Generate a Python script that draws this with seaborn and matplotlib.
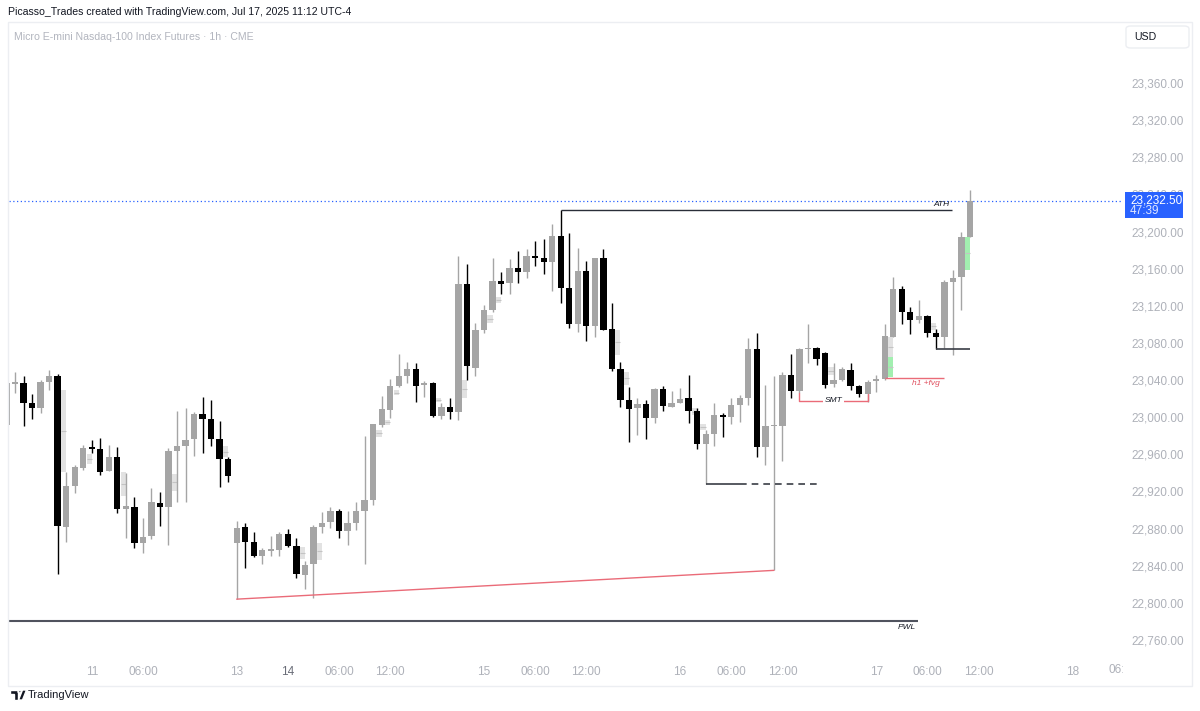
import numpy as np
import pandas as pd
import seaborn as sns
import matplotlib.pyplot as plt
from matplotlib.patches import Rectangle, FancyBboxPatch, Polygon, Circle
from matplotlib.transforms import Bbox, TransformedBbox

# MNQ 1h candles, Jul 10 14:00 -> Jul 17 11:00 ET
opens = [22992, 23036, 23037, 23015, 23010, 23038, 23044, 22882, 22926, 22945,
         22968, 22966, 22942, 22957, 22901, 22903, 22864, 22872, 22908, 22903,
         22964, 22969, 22976, 23003, 22998, 22976, 22955, 22864, 22882, 22866,
         22850, 22856, 22857, 22874, 22861, 22830, 22842, 22882, 22887, 22899,
         22877, 22886, 22899, 22911, 22992, 23008, 23034, 23044, 23052, 23035,
         23037, 23001, 23011, 23006, 23144, 23053, 23094, 23116, 23147, 23145,
         23161, 23156, 23174, 23171, 23167, 23195, 23139, 23100, 23157, 23098,
         23171, 23095, 23052, 23018, 23010, 23014, 22999, 23030, 23011, 23015,
         23021, 23007, 22971, 22982, 23002, 23000, 23013, 23021, 23073, 22968,
         22990, 22990, 23045, 23028, 23073, 23075, 23069, 23036, 23040, 23051,
         23034, 23025, 23039, 23041, 23086, 23138, 23113, 23105, 23109, 23091,
         23086, 23146, 23151, 23194]
highs = [23037, 23049, 23044, 23025, 23040, 23051, 23047, 22941, 22949, 22970,
         22975, 22978, 22970, 22968, 22940, 22914, 22891, 22924, 22919, 22967,
         23007, 23010, 23006, 23022, 23019, 22996, 22957, 22888, 22886, 22876,
         22859, 22872, 22876, 22880, 22870, 22845, 22884, 22898, 22903, 22901,
         22899, 22909, 22980, 22993, 23023, 23041, 23068, 23059, 23058, 23039,
         23038, 23015, 23021, 23174, 23165, 23101, 23121, 23172, 23156, 23170,
         23179, 23181, 23190, 23192, 23208, 23223, 23198, 23182, 23168, 23171,
         23181, 23123, 23059, 23032, 23021, 23019, 23031, 23034, 23028, 23031,
         23045, 23010, 22986, 23015, 23005, 23021, 23024, 23085, 23091, 23035,
         23044, 23049, 23068, 23075, 23100, 23076, 23070, 23058, 23054, 23058,
         23035, 23040, 23045, 23100, 23151, 23141, 23119, 23126, 23110, 23095,
         23148, 23159, 23200, 23245]
lows = [22992, 23026, 22991, 22998, 23005, 23029, 22831, 22866, 22918, 22943,
        22961, 22938, 22942, 22897, 22870, 22859, 22854, 22869, 22883, 22862,
        22909, 22909, 22958, 22961, 22969, 22925, 22930, 22804, 22838, 22849,
        22842, 22850, 22850, 22860, 22827, 22815, 22805, 22875, 22881, 22870,
        22862, 22878, 22842, 22905, 22989, 22999, 23033, 23037, 23016, 23022,
        23000, 22998, 22998, 22997, 23040, 23044, 23091, 23113, 23133, 23133,
        23145, 23150, 23163, 23154, 23136, 23123, 23096, 23092, 23082, 23086,
        23094, 23050, 23011, 22973, 22981, 22977, 22994, 23007, 23011, 23015,
        22994, 22966, 22928, 22969, 22979, 22993, 22995, 23013, 22957, 22949,
        22835, 22953, 23021, 23026, 23058, 23056, 23031, 23033, 23039, 23029,
        23022, 23016, 23027, 23040, 23086, 23100, 23090, 23102, 23086, 23073,
        23074, 23067, 23115, 23194]
closes = [23037, 23037, 23015, 23010, 23038, 23044, 22883, 22926, 22946, 22967,
          22966, 22941, 22957, 22901, 22904, 22864, 22871, 22909, 22903, 22964,
          22969, 22975, 23003, 22998, 22976, 22955, 22937, 22881, 22866, 22850,
          22857, 22858, 22874, 22861, 22831, 22841, 22882, 22886, 22899, 22877,
          22886, 22899, 22911, 22993, 23009, 23034, 23044, 23052, 23034, 23037,
          23001, 23011, 23006, 23144, 23055, 23094, 23116, 23147, 23144, 23161,
          23156, 23174, 23172, 23167, 23195, 23139, 23100, 23157, 23098, 23171,
          23094, 23052, 23018, 23009, 23014, 22999, 23030, 23012, 23015, 23020,
          23007, 22971, 22982, 23002, 23000, 23013, 23021, 23073, 22968, 22990,
          22992, 23045, 23028, 23073, 23075, 23063, 23035, 23040, 23052, 23034,
          23025, 23038, 23041, 23087, 23138, 23113, 23105, 23109, 23091, 23086,
          23146, 23150, 23194, 23232.5]

# faint overlay boxes (second symbol), bar position / top / bottom / green?
ghost_x = [6.7, 9.7, 13.7, 19.7, 25.7, 34.7, 36.7, 43.7, 44.7, 45.7, 50.7, 53.7,
           56.7, 57.7, 71.7, 72.7, 80.7, 81.7, 96.7, 103.7, 103.7, 108.7, 112.7]
ghost_top = [23029, 22960, 22941, 22939, 22969, 22860, 22865, 22986, 22997, 23029,
             23021, 23040, 23110, 23130, 23094, 23049, 23010, 22993, 23054, 23086,
             23065, 23102, 23194]
ghost_bot = [22941, 22950, 22915, 22921, 22957, 22847, 22846, 22979, 22992, 23024,
             23016, 23021, 23102, 23123, 23067, 23035, 23002, 22986, 23045, 23065,
             23043, 23094, 23159]
ghost_green = [False] * 20 + [True, False, True]

tick_pos = [10, 16, 27, 33, 39, 45, 56, 62, 68, 79, 85, 91, 102, 108, 114, 125]
tick_labels = ["11", "06:00", "13", "14", "06:00", "12:00", "15", "06:00", "12:00",
               "16", "06:00", "12:00", "17", "06:00", "12:00", "18"]
price_ticks = list(range(22760, 23361, 40))

last_price = 23232.5
pwl_level = 22780.5
ath_level = 23223
sweep_level = 22928
late_low = 23073
fvg_level = 23042
smt_level = 23017.5
smt_lows = [23026, 23025]
trend_x = [27, 90]
trend_y = [22804, 22835]

UP, DOWN = "#a5a5a5", "#000000"
RED = "#ea6b78"
AXIS_TXT = "#aeb1b9"

sns.set_style("white")
plt.rcParams["font.family"] = ["Liberation Sans", "DejaVu Sans"]

df = pd.DataFrame({"open": opens, "high": highs, "low": lows, "close": closes})
df["x"] = np.arange(len(df))
df["up"] = df["close"] >= df["open"]

W, H = 1200, 711
def fx(px):
    return px / W
def fy(py):
    return 1 - py / H

fig = plt.figure(figsize=(12, 7.11), dpi=100)
fig.patch.set_facecolor("white")
ax = fig.add_axes([fx(9), fy(655), fx(1122) - fx(9), fy(22) - fy(655)])

# overlay boxes
g = pd.DataFrame({"x": ghost_x, "top": ghost_top, "bot": ghost_bot, "green": ghost_green})
ax.bar(g["x"], g["top"] - g["bot"], bottom=g["bot"], width=0.62,
       color=np.where(g["green"], "#a2efb0", "#e2e2e2"), linewidth=0, zorder=2)
mid = (g["top"] + g["bot"]) / 2
ax.hlines(mid, g["x"] - 0.31, g["x"] + 0.31, color="#c4c4c4", lw=0.8, zorder=2.5)

# candles
colors = np.where(df["up"], UP, DOWN)
ax.vlines(df["x"], df["low"], df["high"], colors=colors, lw=1.0, zorder=3)
body_lo = df[["open", "close"]].min(axis=1)
body_h = (df["close"] - df["open"]).abs().clip(lower=1.4)
ax.bar(df["x"], body_h, bottom=body_lo, width=0.74, color=colors, linewidth=0, zorder=4)

# drawings
ann = dict(fontsize=6, style="italic", color="#131722")
ax.hlines(pwl_level, 0, 106.9, color="#50535e", lw=1.5, zorder=5)
ax.text(106.7, pwl_level - 3, "PWL", ha="right", va="top", **ann)

sns.lineplot(x=trend_x, y=trend_y, ax=ax, color=RED, lw=1, zorder=5)

ax.hlines(ath_level, 65, 110.9, color="#2a2e39", lw=1, zorder=5)
ax.text(110.6, ath_level + 2.5, "ATH", ha="right", va="bottom", **ann)

ax.hlines(sweep_level, 82, 86, color="#3a3d45", lw=1.2, zorder=5)
ax.hlines(sweep_level, 86, 95.4, color="#3a3d45", lw=1.2, linestyles=(0, (4, 3)), zorder=5)
ax.hlines(late_low, 109, 113, color="#3a3d45", lw=1.2, zorder=5)

ax.plot([93, 93, 101, 101], [smt_lows[0], smt_level, smt_level, smt_lows[1]],
        color=RED, lw=1, zorder=5)
ax.text(97, smt_level, "SMT", ha="center", va="center", zorder=6,
        bbox=dict(facecolor="white", edgecolor="none", pad=1), **ann)

ax.hlines(fvg_level, 103, 110, color=RED, lw=1, zorder=5)
ax.text(107.8, fvg_level - 6, "h1 +fvg", ha="center", va="center", fontsize=6,
        style="italic", color="#e0505f")

ax.axhline(last_price, color="#2962ff", lw=0.9, ls=(0, (1, 2)), zorder=1)

# axes
ax.set_xlim((9 - 6.47) / 8.527, (1122 - 6.47) / 8.527)
ax.set_ylim(23449.4 - 1.0772 * 655, 23449.4 - 1.0772 * 22)
ax.set_xticks(tick_pos)
ax.set_xticklabels(tick_labels)
ax.yaxis.tick_right()
ax.set_yticks(price_ticks)
ax.set_yticklabels([f"{p:,.2f}" for p in price_ticks])
ax.tick_params(axis="both", length=0, labelsize=8.5, labelcolor=AXIS_TXT)
ax.tick_params(axis="x", pad=8)
ax.tick_params(axis="y", pad=6.5)
ax.get_xticklabels()[3].set_color("#6a6d78")
for s in ax.spines.values():
    s.set_visible(False)
ax.grid(False)

# clipped future label at right edge
t = fig.text(fx(6.47 + 8.527 * 131), fy(670), "06:00", ha="center", va="center",
             fontsize=8.5, color=AXIS_TXT)
t.set_clip_box(TransformedBbox(Bbox([[0, 0], [1123 / W, 1]]), fig.transFigure))
t.set_clip_on(True)

# pane frame, headers
fig.patches.append(Rectangle((fx(8), fy(686)), fx(1192) - fx(8), fy(22) - fy(686),
                             transform=fig.transFigure, fill=False, edgecolor="#eceef2",
                             lw=1, zorder=0))
fig.text(fx(8), fy(12), "Picasso_Trades created with TradingView.com, Jul 17, 2025 11:12 UTC-4",
         fontsize=7.6, color="#131722", va="center", ha="left")
fig.text(fx(14), fy(37), "Micro E-mini Nasdaq-100 Index Futures · 1h · CME",
         fontsize=7.6, color="#b2b5be", va="center", ha="left")

fig.patches.append(FancyBboxPatch((fx(1126), fy(48)), fx(1189) - fx(1126), fy(26) - fy(48),
                                  boxstyle="round,pad=0,rounding_size=0.004",
                                  transform=fig.transFigure, facecolor="white",
                                  edgecolor="#eceef2", lw=1, zorder=2))
fig.text(fx(1134), fy(37), "USD", fontsize=7.6, color="#131722", va="center", zorder=3)

# last price tag
fig.patches.append(Rectangle((fx(1125), fy(218)), fx(1183) - fx(1125), fy(192) - fy(218),
                             transform=fig.transFigure, facecolor="#2962ff",
                             edgecolor="none", zorder=2))
fig.text(fx(1130), fy(200), f"{last_price:,.2f}", fontsize=8.5, color="white",
         va="center", zorder=3)
fig.text(fx(1130), fy(211), "47:39", fontsize=8.5, color="#dfe6ff", va="center", zorder=3)

# TradingView logo
fig.patches.append(Polygon([(fx(10), fy(690)), (fx(17.5), fy(690)), (fx(17.5), fy(700)),
                            (fx(14), fy(700)), (fx(14), fy(693.5)), (fx(10), fy(693.5))],
                           transform=fig.transFigure, facecolor="#131722", zorder=2))
fig.patches.append(Circle((fx(19.8), fy(691.8)), 1.8 / W, transform=fig.transFigure,
                          facecolor="#131722", zorder=2))
fig.patches.append(Polygon([(fx(22.5), fy(690)), (fx(26.5), fy(690)), (fx(22.5), fy(700)),
                            (fx(18.5), fy(700))],
                           transform=fig.transFigure, facecolor="#131722", zorder=2))
fig.text(fx(28), fy(695.5), "TradingView", fontsize=8, color="#131722", va="center")

fig.savefig("out.png", dpi=100, facecolor="white")
